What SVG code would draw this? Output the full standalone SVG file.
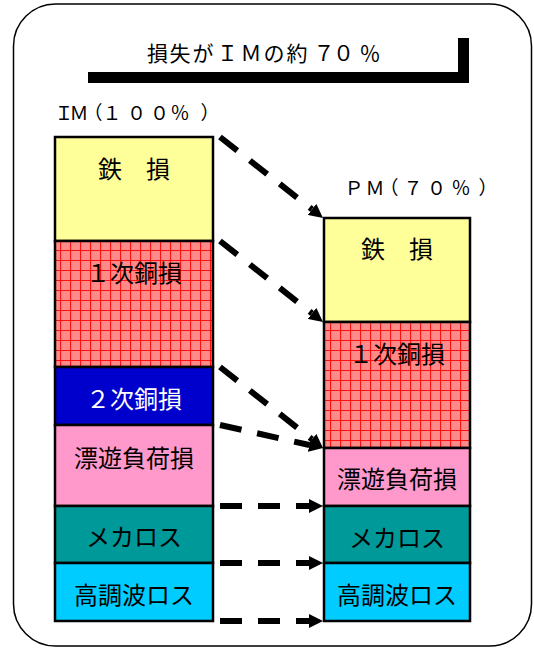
<svg xmlns="http://www.w3.org/2000/svg" width="534" height="648" viewBox="0 0 534 648">
<style>
text{font-family:"Noto Sans CJK JP","Noto Sans",sans-serif;fill:#000}
.lbl{font-size:24px;text-anchor:middle}
.hdr{font-size:19px;text-anchor:middle}
.ttl{font-size:21px;text-anchor:middle}
.box{stroke:#000;stroke-width:2.5}
.arr{fill:none;stroke:#000;stroke-width:6;stroke-dasharray:22 16;marker-end:url(#ah)}
</style>
<defs>
<pattern id="grid" width="10" height="10" patternUnits="userSpaceOnUse">
<rect width="10" height="10" fill="#FF8A8A"/>
<path d="M0,0.5H10M0.5,0V10" stroke="#FF1010" stroke-width="1.2"/>
</pattern>
<marker id="ah" markerUnits="userSpaceOnUse" viewBox="0 0 14 14" markerWidth="14" markerHeight="14" refX="0" refY="7" orient="auto">
<path d="M0,0L14,7L0,14z" fill="#000"/>
</marker>
</defs>
<rect width="534" height="648" fill="#fff"/>
<rect id="frame" x="13.5" y="4" width="518" height="642" rx="42" ry="42" fill="none" stroke="#000" stroke-width="1.5"/>
<g id="title">
<polygon points="88,72 458,72 458,38 469,38 469,83 88,83" fill="#000"/>
<text class="ttl" y="61" x="157.5 180 203 227.5 251 274 297 324 343.5 370">損失がＩＭの約７０％</text>
</g>
<g id="im-label"><text class="hdr" y="120" x="64 79 93 112 136.5 159.5 180 210">ＩＭ（１００％）</text></g>
<g id="pm-label"><text class="hdr" y="195" x="354 375 389 413 436.5 461 488">ＰＭ（７０％）</text></g>
<g id="im">
<g id="im-iron"><rect class="box" x="55" y="137" width="158" height="104" fill="#FFFF99"/><text class="lbl" x="134" y="177.5">鉄　損</text></g>
<g id="im-cu1"><rect class="box" x="55" y="241" width="158" height="126" fill="url(#grid)"/><text class="lbl" x="134" y="282">１次銅損</text></g>
<g id="im-cu2"><rect class="box" x="55" y="367" width="158" height="58" fill="#0000CC"/><text class="lbl" x="134" y="408" style="fill:#fff">２次銅損</text></g>
<g id="im-stray"><rect class="box" x="55" y="425" width="158" height="81" fill="#FF99CC"/><text class="lbl" x="134" y="467">漂遊負荷損</text></g>
<g id="im-mech"><rect class="box" x="55" y="506" width="158" height="57" fill="#009999"/><text class="lbl" x="134" y="546">メカロス</text></g>
<g id="im-harm"><rect class="box" x="55" y="563" width="158" height="58" fill="#00CCFF"/><text class="lbl" x="134" y="604">高調波ロス</text></g>
</g>
<g id="pm">
<g id="pm-iron"><rect class="box" x="324" y="218" width="146" height="104" fill="#FFFF99"/><text class="lbl" x="397" y="258">鉄　損</text></g>
<g id="pm-cu1"><rect class="box" x="324" y="322" width="146" height="126" fill="url(#grid)"/><text class="lbl" x="397" y="363">１次銅損</text></g>
<g id="pm-stray"><rect class="box" x="324" y="448" width="146" height="58" fill="#FF99CC"/><text class="lbl" x="397" y="488">漂遊負荷損</text></g>
<g id="pm-mech"><rect class="box" x="324" y="506" width="146" height="57" fill="#009999"/><text class="lbl" x="397" y="547">メカロス</text></g>
<g id="pm-harm"><rect class="box" x="324" y="563" width="146" height="58" fill="#00CCFF"/><text class="lbl" x="397" y="603.5">高調波ロス</text></g>
</g>
<g id="connectors">
<line class="arr" x1="220" y1="137" x2="312" y2="209.35"/>
<line class="arr" x1="220" y1="241" x2="312" y2="313.35"/>
<line class="arr" x1="220" y1="367" x2="312" y2="439.35"/>
<line class="arr" x1="220" y1="425" x2="309.34" y2="444.95"/>
<line class="arr" x1="220" y1="506" x2="309" y2="506"/>
<line class="arr" x1="220" y1="563" x2="309" y2="563"/>
<line class="arr" x1="220" y1="621" x2="309" y2="621"/>
</g>
</svg>
